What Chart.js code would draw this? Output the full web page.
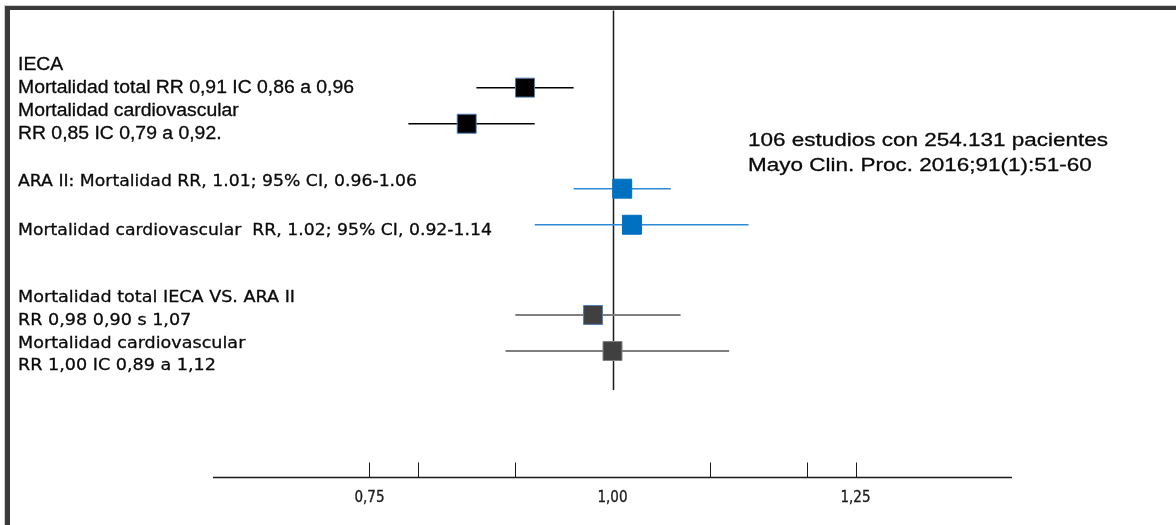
<!DOCTYPE html>
<html>
<head>
<meta charset="utf-8">
<script src="https://cdn.jsdelivr.net/npm/chart.js@4.4.0/dist/chart.umd.min.js"></script>
<style>
  html, body { margin: 0; padding: 0; background: #fff; overflow: hidden; }
  #wrap { position: relative; width: 1176px; height: 525px; overflow: hidden; }
  #frame {
    position: absolute; left: 5px; top: 6px; width: 1300px; height: 700px;
    border-left: 5px solid #3a3a3a; border-top: 4px solid #3a3a3a;
    box-shadow: -1px -1px 0 #d0d0d0;
  }
  canvas { position: absolute; left: 0; top: 0; }
</style>
</head>
<body>
<div id="wrap">
  <div id="frame"></div>
  <canvas id="forest" width="1176" height="525"></canvas>
</div>
<script>
// Relative risks with 95% confidence intervals
const studies = [
  'IECA: mortalidad total',
  'IECA: mortalidad cardiovascular',
  'ARA II: mortalidad total',
  'ARA II: mortalidad cardiovascular',
  'IECA vs ARA II: mortalidad total',
  'IECA vs ARA II: mortalidad cardiovascular'
];
const rr     = [0.91, 0.85, 1.01, 1.02, 0.98, 1.00];
const ciLow  = [0.86, 0.79, 0.96, 0.92, 0.90, 0.89];
const ciHigh = [0.96, 0.92, 1.06, 1.14, 1.07, 1.12];

// Axis tick marks and the values that carry a label
const axisTicks  = [0.75, 0.80, 0.90, 1.10, 1.20, 1.25];
const axisLabels = [0.75, 1.00, 1.25];

// Vertical placement of each study row (in row units) and drawing styles
const rowPos     = [0, 1, 2.8, 3.8, 6.3, 7.3];
const lineColors = ['#000000', '#000000', '#2f8ad6', '#2f8ad6', '#7f7f7f', '#7f7f7f'];
const lineWidths = [1.5, 1.5, 1.5, 1.5, 2, 2];
const boxFill    = ['#000000', '#000000', '#0070c0', '#0070c0', '#404040', '#404040'];
const boxEdge    = ['#4f7fb5', '#4f7fb5', '#0070c0', '#0070c0', '#4f7fb5', '#808080'];

// Text blocks beside the plot; "fit" is the drawn width of the block's widest line
const blocks = [
  { font: '18px "Liberation Sans", Arial, sans-serif', x: 18, y0: 65, dy: 23, fit: 336, lines: [
    'IECA',
    'Mortalidad total RR 0,91 IC 0,86 a 0,96',
    'Mortalidad cardiovascular',
    'RR 0,85 IC 0,79 a 0,92.'
  ]},
  { font: '16.5px "DejaVu Sans", sans-serif', x: 18, y0: 182, dy: 49, fit: 474, lines: [
    'ARA II: Mortalidad RR, 1.01; 95% CI, 0.96-1.06',
    'Mortalidad cardiovascular  RR, 1.02; 95% CI, 0.92-1.14'
  ]},
  { font: '16.5px "DejaVu Sans", sans-serif', x: 18, y0: 298, dy: 22.7, fit: 277, lines: [
    'Mortalidad total IECA VS. ARA II',
    'RR 0,98 0,90 s 1,07',
    'Mortalidad cardiovascular',
    'RR 1,00 IC 0,89 a 1,12'
  ]},
  { font: '19px "Liberation Sans", Arial, sans-serif', x: 748, y0: 141, dy: 25, fit: 360, lines: [
    '106 estudios con 254.131 pacientes',
    'Mayo Clin. Proc. 2016;91(1):51-60'
  ]}
];

const datasets = [];
// Point estimates (first dataset is painted last, so boxes sit on top)
datasets.push({
  label: 'RR',
  data: rr.map((v, i) => ({ x: v, y: rowPos[i] })),
  showLine: false,
  pointStyle: 'rect',
  pointRadius: 13.4,
  pointHoverRadius: 13.4,
  backgroundColor: boxFill,
  borderColor: boxEdge,
  borderWidth: 1
});
// Confidence interval whiskers
studies.forEach((name, i) => {
  datasets.push({
    label: name,
    data: [{ x: ciLow[i], y: rowPos[i] }, { x: ciHigh[i], y: rowPos[i] }],
    showLine: true,
    borderColor: lineColors[i],
    borderWidth: lineWidths[i],
    pointRadius: 0,
    pointHoverRadius: 0
  });
});

const fmt = v => v.toFixed(2).replace('.', ',');

// Text drawn with a horizontal stretch and a hairline outline for weight
function wideText(ctx, s, x, y, sx, align) {
  ctx.save();
  ctx.translate(x, y);
  ctx.scale(sx, 1);
  ctx.textAlign = align;
  ctx.fillText(s, 0, 0);
  ctx.lineWidth = 0.3;
  ctx.strokeStyle = ctx.fillStyle;
  ctx.strokeText(s, 0, 0);
  ctx.restore();
}

const forestDecor = {
  id: 'forestDecor',
  beforeDatasetsDraw(chart) {
    const { ctx, chartArea, scales: { x } } = chart;
    const px = Math.round(x.getPixelForValue(1)) + 0.5;
    ctx.save();
    ctx.strokeStyle = '#1a1a1a';
    ctx.lineWidth = 1.5;
    ctx.beginPath();
    ctx.moveTo(px, chartArea.top - 4);
    ctx.lineTo(px, chartArea.bottom);
    ctx.stroke();
    ctx.restore();
  },
  afterDraw(chart) {
    const { ctx, chartArea, scales: { x } } = chart;
    ctx.save();
    // horizontal axis below the plot
    const axisY = chartArea.bottom + 87.5;
    ctx.strokeStyle = '#1a1a1a';
    ctx.lineWidth = 1.5;
    ctx.beginPath();
    ctx.moveTo(chartArea.left, axisY);
    ctx.lineTo(chartArea.right, axisY);
    ctx.stroke();
    ctx.lineWidth = 1;
    axisTicks.forEach(t => {
      const px = Math.round(x.getPixelForValue(t)) + 0.5;
      ctx.beginPath();
      ctx.moveTo(px, axisY - 15);
      ctx.lineTo(px, axisY);
      ctx.stroke();
    });
    ctx.fillStyle = '#1a1a1a';
    ctx.font = '15px "DejaVu Sans Condensed", "DejaVu Sans", sans-serif';
    ctx.textBaseline = 'middle';
    axisLabels.forEach(t => wideText(ctx, fmt(t), x.getPixelForValue(t), axisY + 21, 1, 'center'));

    // study descriptions and source note
    ctx.fillStyle = '#0a0a0a';
    blocks.forEach(b => {
      ctx.font = b.font;
      const widest = Math.max(...b.lines.map(s => ctx.measureText(s).width));
      const sx = b.fit / widest;
      b.lines.forEach((s, k) => wideText(ctx, s, b.x, b.y0 + k * b.dy, sx, 'left'));
    });
    ctx.restore();
  }
};

new Chart(document.getElementById('forest'), {
  type: 'scatter',
  data: { datasets },
  options: {
    responsive: false,
    animation: false,
    events: [],
    layout: { padding: { left: 213, right: 164, top: 10, bottom: 135 } },
    plugins: { legend: { display: false }, tooltip: { enabled: false } },
    scales: {
      x: { type: 'linear', min: 0.589, max: 1.411, display: false },
      y: { type: 'linear', min: -2.03, max: 8.38, reverse: true, display: false }
    }
  },
  plugins: [forestDecor]
});
</script>
</body>
</html>
